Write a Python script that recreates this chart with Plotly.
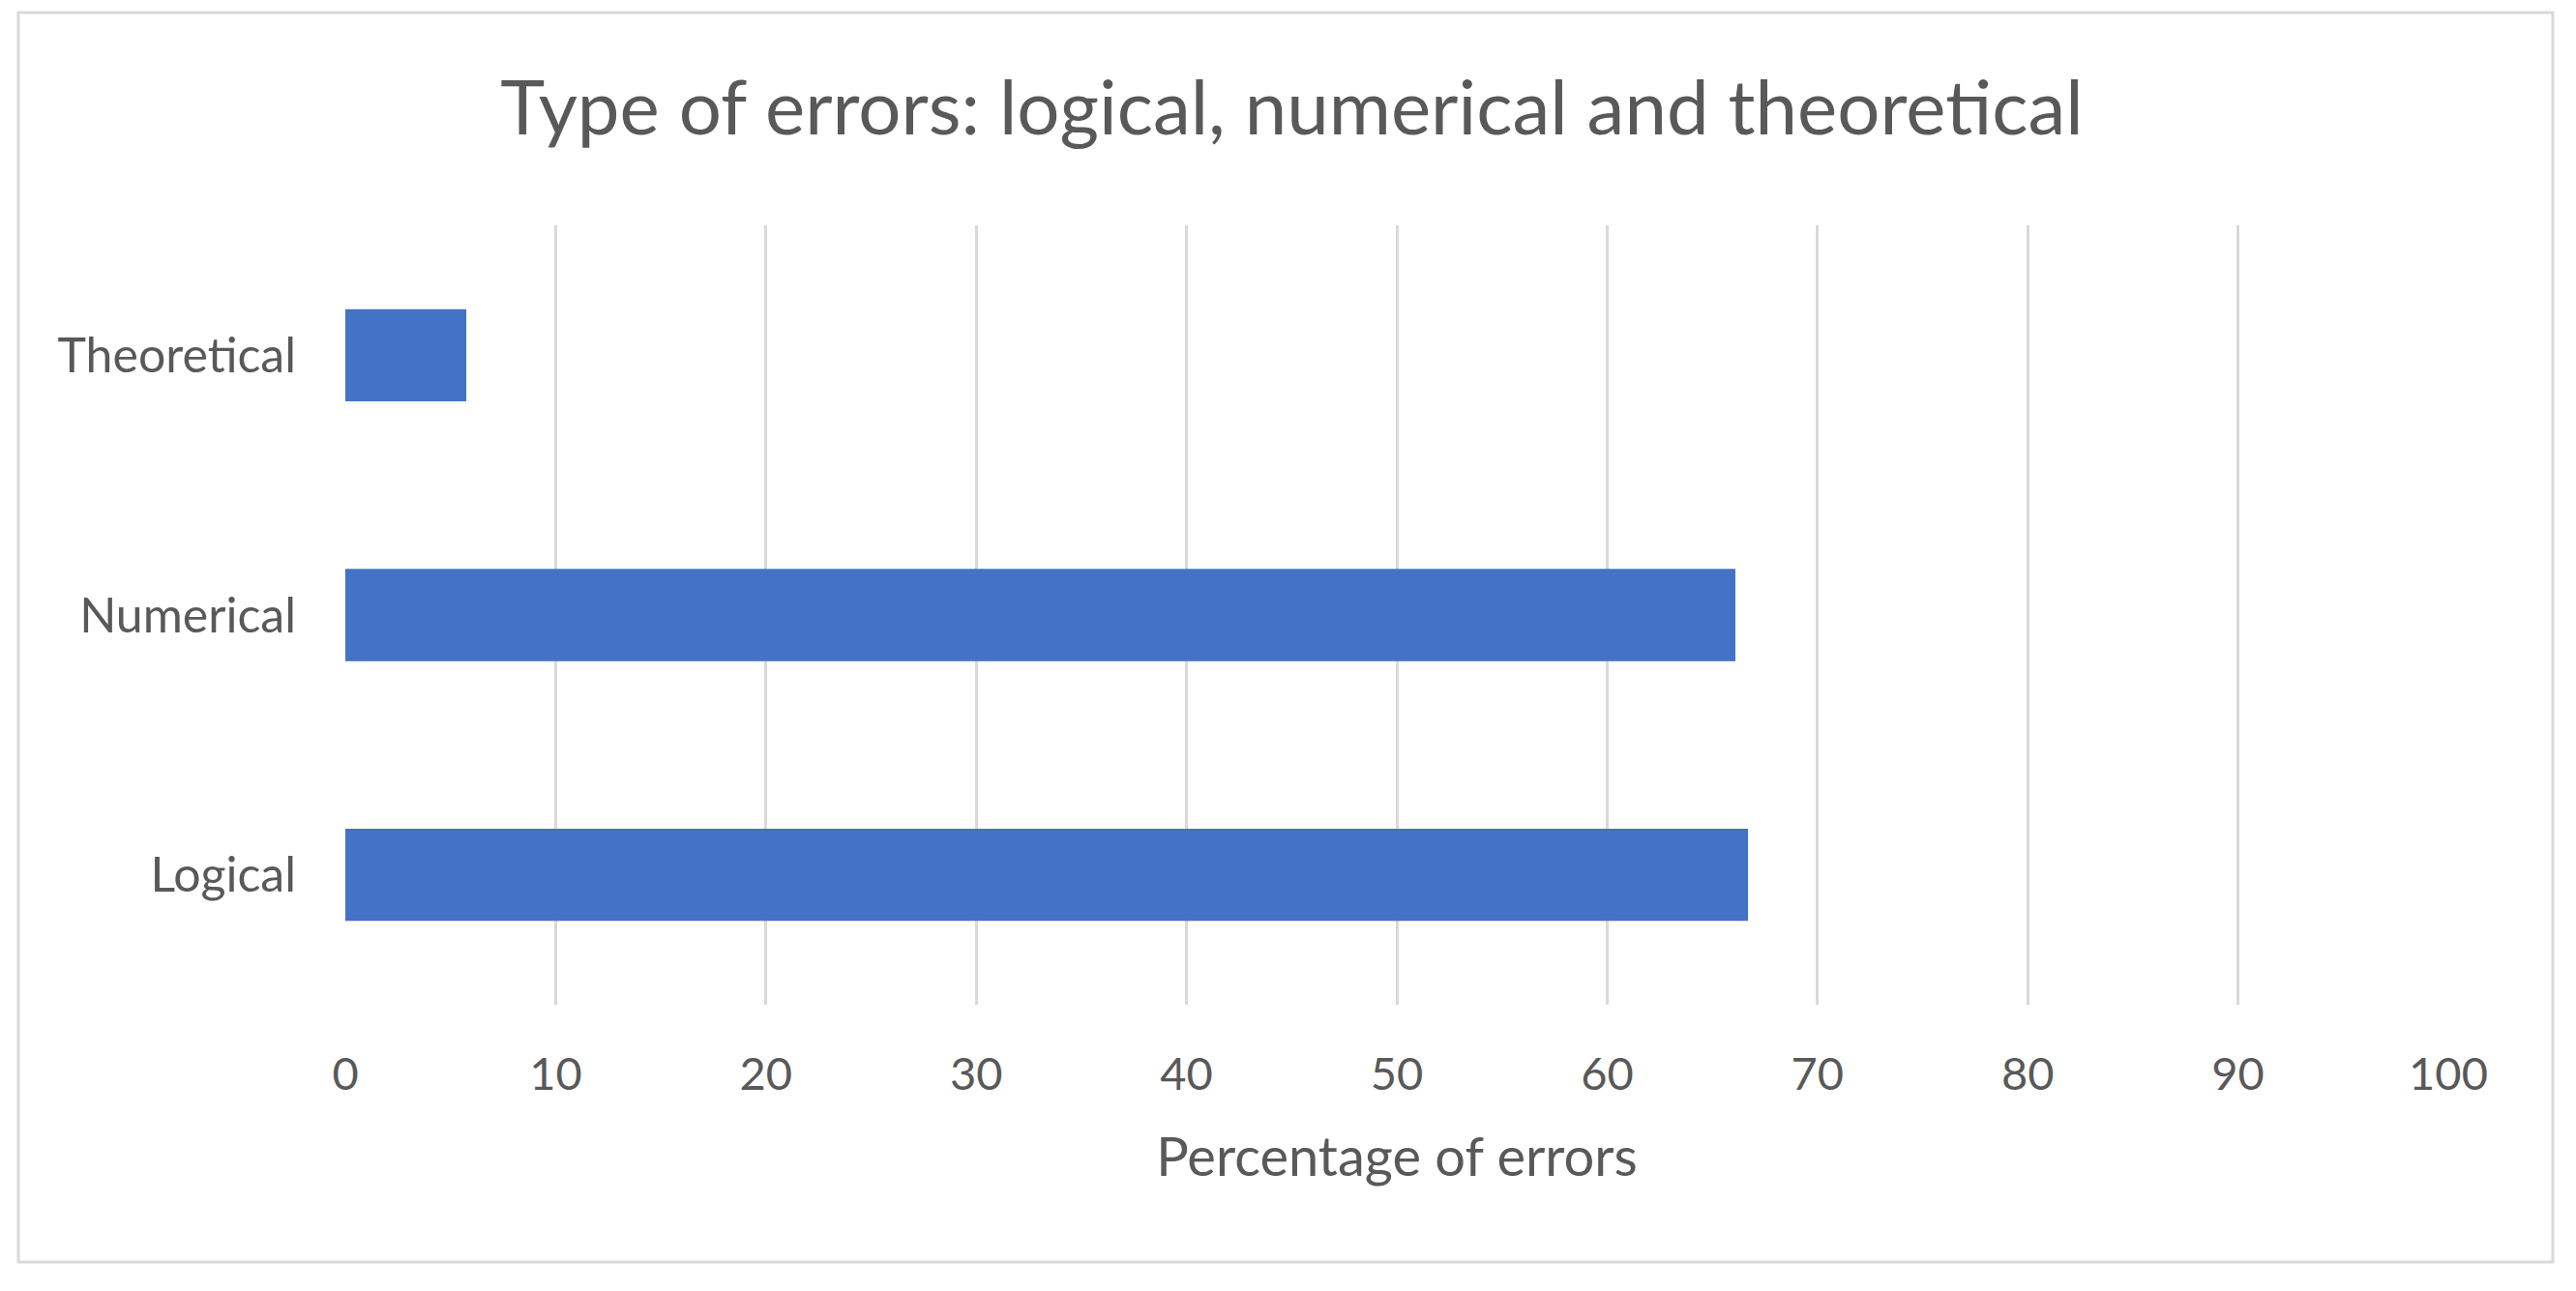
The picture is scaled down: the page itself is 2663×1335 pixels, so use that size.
import plotly.graph_objects as go

W, H = 2663, 1335
PAGE_PAD = 8  # default body margin of the html page

categories = ['Logical', 'Numerical', 'Theoretical']
percentages = [66.7, 66.1, 5.75]
x_ticks = [0, 10, 20, 30, 40, 50, 60, 70, 80, 90, 100]

BAR_COLOR = '#4472C4'
TEXT_COLOR = '#595959'
GRID_COLOR = '#D9D9D9'
FONT = 'Lato'

# plot area in page pixels
left, right, top, bottom = 357, 2531, 233, 1039

fig_w, fig_h = W - PAGE_PAD, H - PAGE_PAD

fig = go.Figure()
fig.add_trace(go.Bar(y=categories,
                     x=percentages,
                     orientation='h',
                     marker=dict(color=BAR_COLOR, line=dict(width=0)),
                     width=0.355))

fig.update_layout(width=fig_w, height=fig_h,
                  margin=dict(l=left - PAGE_PAD, r=fig_w + PAGE_PAD - right,
                              t=top - PAGE_PAD, b=fig_h + PAGE_PAD - bottom),
                  paper_bgcolor='white',
                  plot_bgcolor='white',
                  showlegend=False,
                  font=dict(family=FONT, color=TEXT_COLOR),
                  title=dict(text='Type of errors: logical, numerical and theoretical',
                             x=0.5, xanchor='center',
                             y=1 - (112 - PAGE_PAD) / fig_h, yanchor='middle',
                             font=dict(size=78, color=TEXT_COLOR, family=FONT)))

fig.update_xaxes(range=[0, 100],
                 tickvals=x_ticks,
                 showgrid=True, gridcolor=GRID_COLOR, gridwidth=3,
                 zeroline=False, showline=False,
                 ticks='', ticklabelstandoff=40,
                 tickfont=dict(size=47, color=TEXT_COLOR),
                 title=dict(text='Percentage of errors', standoff=40,
                            font=dict(size=56, color=TEXT_COLOR)))

fig.update_yaxes(range=[-0.5, 2.5],
                 showgrid=False, zeroline=False, showline=False,
                 ticks='', ticklabelstandoff=50,
                 tickfont=dict(size=50, color=TEXT_COLOR))

# chart border
pw, ph = right - left, bottom - top
fig.add_shape(type='rect', xref='paper', yref='paper',
              x0=(19 - left) / pw, x1=(2639 - left) / pw,
              y0=(bottom - 1305) / ph, y1=(bottom - 13) / ph,
              line=dict(color=GRID_COLOR, width=3), layer='below')

fig.write_html("out.html")
